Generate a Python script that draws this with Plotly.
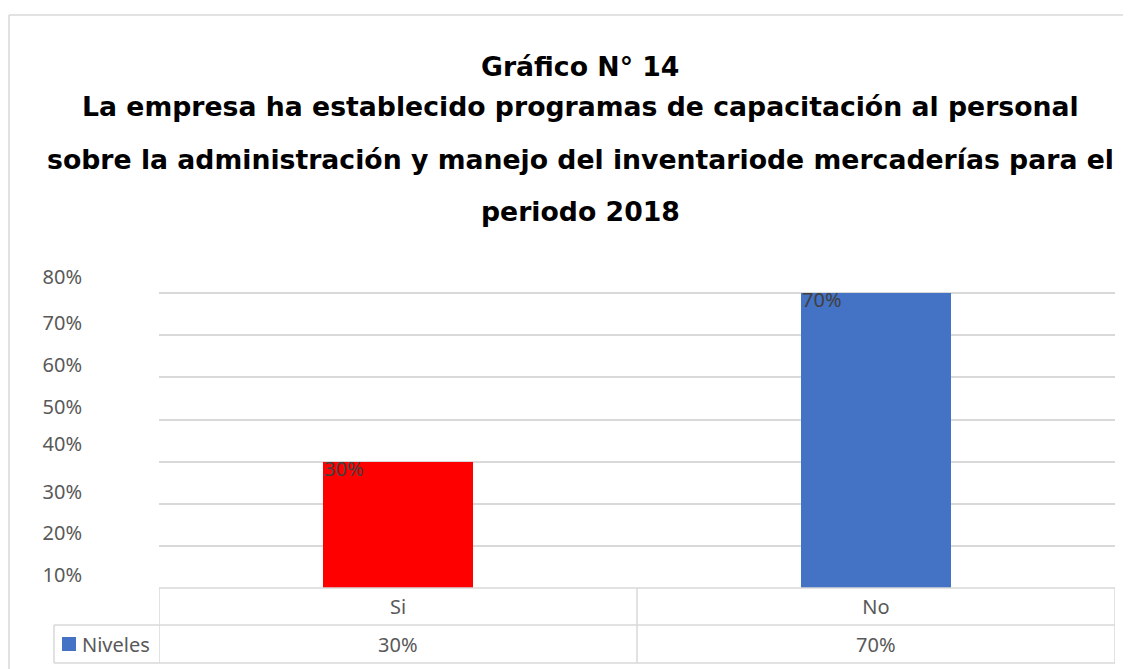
import plotly.graph_objects as go

# data
categorias = ["Si", "No"]
valores = [0.30, 0.70]
colores = ["#FF0000", "#4472C4"]
serie = "Niveles"
titulo = [
    "Gráfico N° 14",
    "La empresa ha establecido programas de capacitación al personal",
    "sobre la administración y manejo del inventariode mercaderías para el",
    "periodo 2018",
]
# y tick labels as they appear (shifted from the gridlines in the original)
tick_text = ["80%", "70%", "60%", "50%", "40%", "30%", "20%", "10%"]
tick_pos = [0.739, 0.630, 0.530, 0.430, 0.342, 0.228, 0.130, 0.031]

# page has an 8px body margin, so work in screen pixels and subtract it
OFF = 8
W, H = 1131 - OFF, 669 - OFF
ML, MR, MT, MB = 159 - OFF, 16, 251 - OFF, 81
PW, PH = W - ML - MR, H - MT - MB
GRID = "#d9d9d9"
TXT = "#595959"
FONT = "Noto Sans"


def px(x):
    return (x - OFF - ML) / PW


def py(y):
    return (H - MB - (y - OFF)) / PH


fig = go.Figure()
fig.add_trace(go.Bar(
    x=categorias, y=valores, name=serie,
    marker=dict(color=colores, line=dict(width=0)),
    width=0.314, showlegend=False,
))

anns = []
# title lines
for txt, yc in zip(titulo, [66, 107, 160, 212]):
    anns.append(dict(text=f"<b>{txt}</b>", xref="paper", yref="paper",
                     x=px(580), y=py(yc), xanchor="center", yanchor="middle",
                     showarrow=False, font=dict(family="DejaVu Sans", size=26.7, color="#000000")))

# data labels (top-left inside the bar)
for c, v in zip(categorias, valores):
    anns.append(dict(text=f"{v:.0%}", xref="x", yref="y", x=c, y=v,
                     xanchor="left", yanchor="top", xshift=-76, yshift=9,
                     showarrow=False, font=dict(family=FONT, size=20, color="#404040")))

# data table values row
for c, v in zip(categorias, valores):
    anns.append(dict(text=f"{v:.0%}", xref="x", yref="paper", x=c, y=py(644),
                     xanchor="center", yanchor="middle", showarrow=False,
                     font=dict(family=FONT, size=20, color=TXT)))
anns.append(dict(text=serie, xref="paper", yref="paper", x=px(80), y=py(644),
                 xanchor="left", yanchor="middle", showarrow=False,
                 font=dict(family=FONT, size=20, color=TXT)))

shapes = []
line = dict(color=GRID, width=1.5)
# table grid
shapes.append(dict(type="line", xref="paper", yref="paper", x0=0, x1=1, y0=py(588), y1=py(588), line=line))
shapes.append(dict(type="line", xref="paper", yref="paper", x0=px(54), x1=1, y0=py(625), y1=py(625), line=line))
shapes.append(dict(type="line", xref="paper", yref="paper", x0=px(54), x1=1, y0=py(663), y1=py(663), line=line))
shapes.append(dict(type="line", xref="paper", yref="paper", x0=px(54), x1=px(54), y0=py(625), y1=py(663), line=line))
for xv in [-0.5, 0.5, 1.5]:
    shapes.append(dict(type="line", xref="x", yref="paper", x0=xv, x1=xv, y0=py(588), y1=py(663), line=line))
# legend key
shapes.append(dict(type="rect", xref="paper", yref="paper", x0=px(62), x1=px(76),
                   y0=py(651), y1=py(637), fillcolor="#4472C4", line=dict(width=0)))
# outer chart frame
shapes.append(dict(type="line", xref="paper", yref="paper", x0=px(9), x1=px(1140), y0=py(15), y1=py(15), line=line))
shapes.append(dict(type="line", xref="paper", yref="paper", x0=px(9), x1=px(9), y0=py(15), y1=py(680), line=line))

fig.update_layout(
    width=W, height=H,
    margin=dict(l=ML, r=MR, t=MT, b=MB),
    paper_bgcolor="white", plot_bgcolor="white",
    bargap=0,
    annotations=anns, shapes=shapes,
    xaxis=dict(range=[-0.5, 1.5], showgrid=False, zeroline=False, showline=False,
               ticks="", ticklabelstandoff=5, tickfont=dict(family=FONT, size=20, color=TXT)),
    yaxis=dict(range=[0, 0.8], tickvals=tick_pos, ticktext=tick_text, showgrid=False,
               zeroline=False, showline=False, ticks="", ticklabelstandoff=76,
               tickfont=dict(family=FONT, size=20, color=TXT),
               minor=dict(tick0=0, dtick=0.1, showgrid=True, gridcolor=GRID, gridwidth=1.5)),
)

fig.write_html("out.html")
